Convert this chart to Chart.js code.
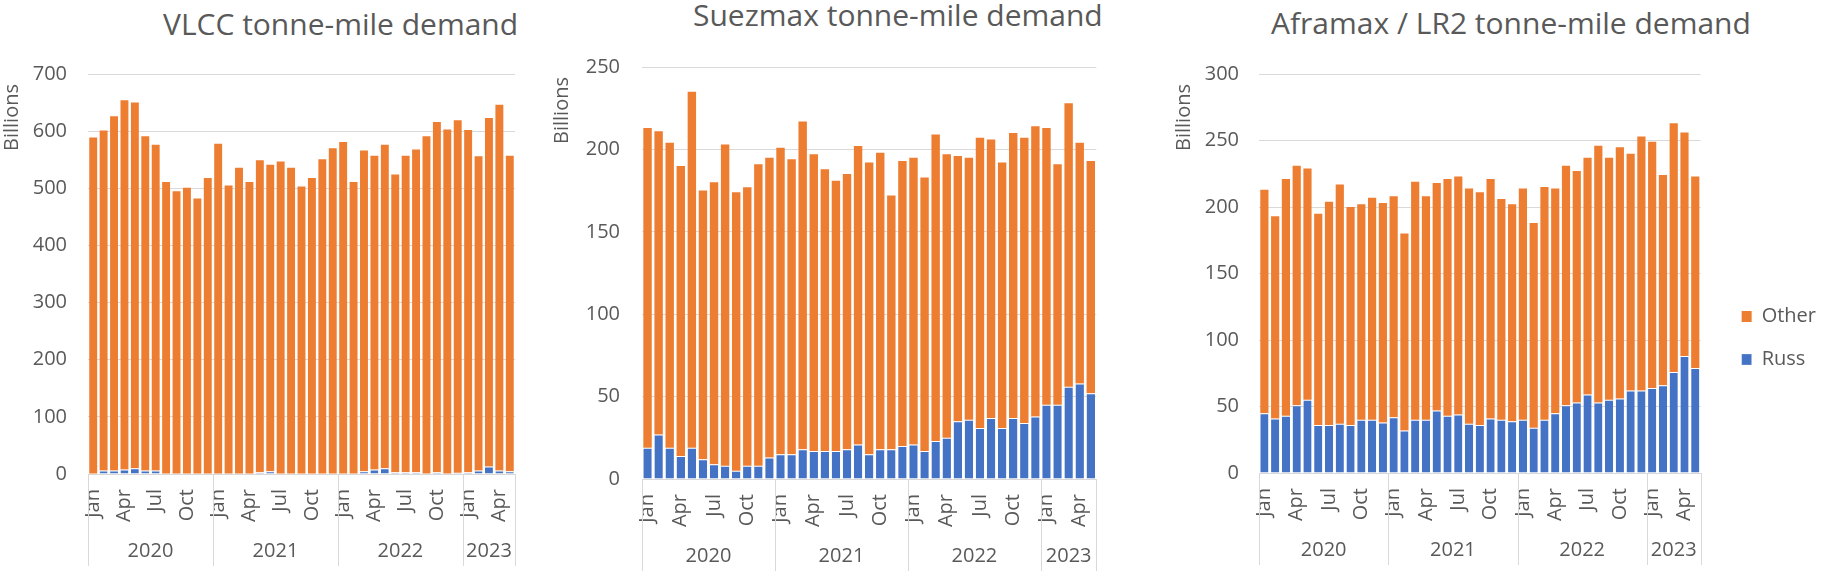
<!DOCTYPE html>
<html>
<head>
<meta charset="utf-8">
<script src="https://cdn.jsdelivr.net/npm/chart.js@4"></script>
<style>
  html, body { margin: 0; padding: 0; background: #fff; overflow: hidden; }
  body { width: 1836px; height: 576px; position: relative; }
  .panel { position: absolute; top: 0; }
  .title {
    position: absolute;
    font-family: "Open Sans", sans-serif;
    font-size: 30px;
    line-height: 30px;
    color: #595959;
    white-space: nowrap;
  }
</style>
</head>
<body>

<div class="title" style="left:163px; top:9px;">VLCC tonne-mile demand</div>
<div class="title" style="left:693px; top:0px;">Suezmax tonne-mile demand</div>
<div class="title" style="left:1271px; top:8px;">Aframax / LR2 tonne-mile demand</div>

<canvas id="vlccChart" class="panel" style="left:0px" width="560" height="576"></canvas>
<canvas id="suezChart" class="panel" style="left:530px" width="600" height="576"></canvas>
<canvas id="afraChart" class="panel" style="left:1160px" width="676" height="602"></canvas>

<script>

// ---------------- categories ----------------
const monthNames = ["Jan","Feb","Mar","Apr","May","Jun","Jul","Aug","Sep","Oct","Nov","Dec"];
const yearNames = ["2020","2021","2022","2023"];
const monthsInYear = [12, 12, 12, 5];
const shownMonths = ["Jan","Apr","Jul","Oct"];

// ---------------- VLCC (billions) ----------------
const vlccRuss = [
    1, 6, 6, 8, 10, 6, 6, 1, 0, 0, 0, 1,
    1, 1, 1, 1, 3, 5, 1, 0, 0, 0, 1, 1,
    0, 1, 5, 8, 10, 3, 3, 3, 1, 3, 0, 2,
    3, 6, 13, 6, 5
];
const vlccOther = [
    588, 595, 620, 646, 640, 585, 570, 510, 495, 501, 482, 517,
    577, 504, 535, 510, 546, 536, 546, 536, 503, 518, 550, 569,
    581, 510, 561, 549, 566, 521, 554, 565, 590, 613, 603, 617,
    599, 550, 610, 640, 552
];

// ---------------- Suezmax (billions) ----------------
const suezRuss = [
    19, 27, 19, 14, 19, 12, 9, 8, 5, 8, 8, 13,
    15, 15, 18, 17, 17, 17, 18, 21, 15, 18, 18, 20,
    21, 17, 23, 25, 35, 36, 31, 37, 31, 37, 34, 38,
    45, 45, 56, 58, 52
];
const suezOther = [
    194, 184, 185, 176, 216, 163, 171, 195, 169, 169, 183, 182,
    186, 179, 199, 180, 171, 164, 167, 181, 177, 180, 154, 173,
    174, 166, 186, 172, 161, 159, 176, 169, 161, 173, 173, 176,
    168, 146, 172, 146, 141
];

// ---------------- Aframax / LR2 (billions) ----------------
const afraRuss = [
    45, 41, 43, 51, 55, 36, 36, 37, 36, 40, 40, 38,
    42, 32, 40, 40, 47, 43, 44, 37, 36, 41, 40, 39,
    40, 34, 40, 45, 51, 53, 59, 53, 55, 56, 62, 62,
    64, 66, 76, 88, 79
];
const afraOther = [
    168, 152, 178, 180, 174, 159, 168, 180, 164, 162, 167, 165,
    166, 148, 179, 168, 171, 178, 179, 177, 175, 180, 166, 163,
    174, 154, 175, 169, 180, 174, 178, 193, 182, 189, 178, 191,
    185, 158, 187, 168, 144
];

// y axis ranges: [max, step]
const vlccAxis = [700, 100];
const suezAxis = [250, 50];
const afraAxis = [300, 50];

const seriesNames = ["Russ", "Other"];
const seriesColors = ["#4472C4", "#ED7D31"];
const textColor = "#595959";
const lineColor = "#d9d9d9";

// month labels for every bar
const categories = [];
monthsInYear.forEach(n => {
    for (let i = 0; i < n; i++) categories.push(monthNames[i]);
});

Chart.defaults.font.family = '"Open Sans", sans-serif';
Chart.defaults.font.size = 20;
Chart.defaults.color = textColor;


// ======================================
// YEAR ROW UNDER THE MONTHS
// ======================================

const yearAxisPlugin = {
    id: "yearAxis",
    afterDraw(chart) {
        const x = chart.scales.x;
        const ctx = chart.ctx;
        const half = (x.getPixelForValue(1) - x.getPixelForValue(0)) / 2;
        const top = chart.chartArea.bottom;

        ctx.save();
        ctx.strokeStyle = lineColor;
        ctx.lineWidth = 1;
        ctx.fillStyle = textColor;
        ctx.font = '20px "Open Sans"';
        ctx.textAlign = "center";
        ctx.textBaseline = "middle";

        let start = 0;
        yearNames.forEach((yr, g) => {
            const end = start + monthsInYear[g] - 1;
            const x0 = x.getPixelForValue(start) - half;
            const x1 = x.getPixelForValue(end) + half;

            const edges = g === yearNames.length - 1 ? [x0, x1] : [x0];
            edges.forEach(px => {
                const p = Math.round(px) + 0.5;
                ctx.beginPath();
                ctx.moveTo(p, top);
                ctx.lineTo(p, top + 92);
                ctx.stroke();
            });

            ctx.fillText(yr, (x0 + x1) / 2, top + 77);
            start = end + 1;
        });
        ctx.restore();
    }
};


// ======================================
// ONE PANEL
// ======================================

function makePanel(id, russ, other, axis, layout) {

    const scales = {
        x: {
            stacked: true,
            grid: {display: false, drawTicks: false},
            border: {display: true, color: lineColor},
            ticks: {
                autoSkip: false,
                minRotation: 90,
                maxRotation: 90,
                padding: 15,
                color: textColor,
                callback: function (v, i) {
                    const m = categories[i];
                    return shownMonths.includes(m) ? m : "";
                }
            },
            afterFit: s => { s.height = layout.xHeight; }
        },
        y: {
            stacked: true,
            min: 0,
            max: axis[0],
            grid: {color: lineColor, drawTicks: false},
            border: {display: false},
            ticks: {stepSize: axis[1], padding: layout.tickPad, color: textColor},
            title: {
                display: true,
                text: "Billions\u2002",
                align: "end",
                color: textColor,
                font: {size: 20},
                padding: 0
            },
            afterFit: s => { s.width = layout.yWidth; }
        }
    };

    // empty spacer between plot and legend
    if (layout.legend) {
        scales.gap = {
            type: "linear",
            position: "right",
            grid: {display: false, drawTicks: false},
            border: {display: false},
            ticks: {display: false},
            afterFit: s => { s.width = layout.legendGap; }
        };
    }

    new Chart(document.getElementById(id), {
        type: "bar",
        data: {
            labels: categories,
            datasets: [
                {
                    label: seriesNames[0],
                    data: russ,
                    backgroundColor: seriesColors[0],
                    borderColor: "#ffffff",
                    borderWidth: {top: 1, right: 0, bottom: 0, left: 0}
                },
                {
                    label: seriesNames[1],
                    data: other,
                    backgroundColor: seriesColors[1],
                    borderWidth: 0
                }
            ]
        },
        options: {
            responsive: false,
            animation: false,
            barPercentage: 0.76,
            categoryPercentage: 1,
            layout: {padding: layout.padding},
            plugins: {
                tooltip: {enabled: false},
                legend: layout.legend ? {
                    display: true,
                    position: "right",
                    reverse: true,
                    labels: {
                        boxWidth: 10,
                        boxHeight: 11,
                        padding: 23,
                        color: textColor,
                        font: {size: 20}
                    }
                } : {display: false}
            },
            scales: scales
        },
        plugins: [yearAxisPlugin]
    });

}


makePanel("vlccChart", vlccRuss, vlccOther, vlccAxis, {
    padding: {top: 74, left: 0, right: 45, bottom: 0},
    yWidth: 88, xHeight: 102, tickPad: 21, legend: false
});

makePanel("suezChart", suezRuss, suezOther, suezAxis, {
    padding: {top: 67, left: 20, right: 17, bottom: 0},
    yWidth: 92, xHeight: 97, tickPad: 22, legend: false
});

makePanel("afraChart", afraRuss, afraOther, afraAxis, {
    padding: {top: 74, left: 12, right: 10, bottom: 0},
    yWidth: 87, xHeight: 129, tickPad: 20, legend: true, legendGap: 18
});

</script>
</body>
</html>
